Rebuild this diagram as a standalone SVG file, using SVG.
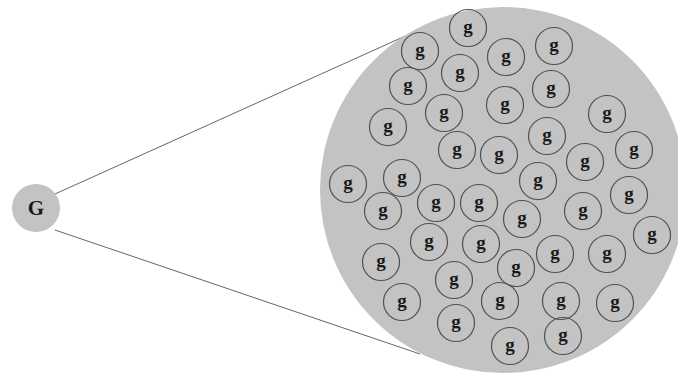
<svg xmlns="http://www.w3.org/2000/svg" width="678" height="378" viewBox="0 0 678 378">
<defs>
<style>
.c{fill:none;stroke:#505050;stroke-width:1.2}
.t{font-family:"Liberation Serif",serif;font-weight:bold;font-size:19px;fill:#1a1a1a;text-anchor:middle}
.ln{stroke:#666;stroke-width:1;fill:none}
</style>
<g id="g"><circle class="c" r="18.5"/><text class="t" y="5">g</text></g>
</defs>
<rect width="678" height="378" fill="#fff"/>
<g id="connectors">
<line class="ln" x1="55" y1="194" x2="412" y2="33"/>
<line class="ln" x1="55" y1="230" x2="420" y2="354"/>
</g>
<g id="big">
<circle cx="503" cy="190" r="183" fill="#c3c3c3"/>
</g>
<g id="G">
<circle cx="36" cy="208" r="24" fill="#c3c3c3"/>
<text x="36" y="215" font-family="Liberation Serif,serif" font-weight="bold" font-size="21" fill="#1a1a1a" text-anchor="middle">G</text>
</g>
<g id="smalls">
<use href="#g" x="468" y="28"/>
<use href="#g" x="420" y="51"/>
<use href="#g" x="460" y="73"/>
<use href="#g" x="506" y="57"/>
<use href="#g" x="554" y="46"/>
<use href="#g" x="408" y="86"/>
<use href="#g" x="444" y="113"/>
<use href="#g" x="505" y="105"/>
<use href="#g" x="551" y="89"/>
<use href="#g" x="607" y="114"/>
<use href="#g" x="388" y="127"/>
<use href="#g" x="457" y="150"/>
<use href="#g" x="499" y="155"/>
<use href="#g" x="547" y="136"/>
<use href="#g" x="585" y="162"/>
<use href="#g" x="634" y="150"/>
<use href="#g" x="348" y="184"/>
<use href="#g" x="402" y="178"/>
<use href="#g" x="538" y="181"/>
<use href="#g" x="383" y="211"/>
<use href="#g" x="436" y="203"/>
<use href="#g" x="479" y="203"/>
<use href="#g" x="522" y="219"/>
<use href="#g" x="583" y="211"/>
<use href="#g" x="629" y="195"/>
<use href="#g" x="652" y="235"/>
<use href="#g" x="429" y="242"/>
<use href="#g" x="481" y="244"/>
<use href="#g" x="381" y="262"/>
<use href="#g" x="555" y="254"/>
<use href="#g" x="607" y="254"/>
<use href="#g" x="516" y="268"/>
<use href="#g" x="454" y="280"/>
<use href="#g" x="402" y="302"/>
<use href="#g" x="500" y="301"/>
<use href="#g" x="561" y="301"/>
<use href="#g" x="615" y="303"/>
<use href="#g" x="456" y="323"/>
<use href="#g" x="510" y="346"/>
<use href="#g" x="563" y="336"/>
</g>
</svg>
